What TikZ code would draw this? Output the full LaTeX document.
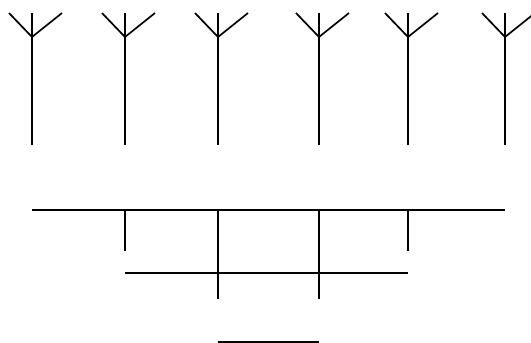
\documentclass[tikz,border=0pt]{standalone}
\usetikzlibrary{positioning}

\begin{document}
\begin{tikzpicture}[
  x=1pt, y=-1pt,
  wire/.style={line width=1.7pt, black},
  antenna/.style={wire}]
  \useasboundingbox (0,0) rectangle (531,343);
  % antennas on top
  \foreach \ax [count=\i] in {32,125,218,319,408,505} {
    \coordinate (top\i) at (\ax,13);
    \coordinate (joint\i) at (\ax,37);
    \coordinate (foot\i) at (\ax,145);
    \draw[antenna] (top\i) -- (foot\i);
    \draw[antenna] (\ax-23,13) -- (joint\i) -- (\ax+30,13);
  }
  % ground bars
  \coordinate (barL) at (32,210);
  \coordinate (barR) at (505,210);
  \coordinate (midL) at (125,273);
  \coordinate (midR) at (408,273);
  \coordinate (lowL) at (218,342);
  \coordinate (lowR) at (319,342);
  \draw[wire] (barL) -- (barR);
  \draw[wire] (125,210) -- (125,251);
  \draw[wire] (408,210) -- (408,251);
  \draw[wire] (218,210) -- (218,299);
  \draw[wire] (319,210) -- (319,299);
  \draw[wire] (midL) -- (midR);
  \draw[wire] (lowL) -- (lowR);
\end{tikzpicture}
\end{document}
